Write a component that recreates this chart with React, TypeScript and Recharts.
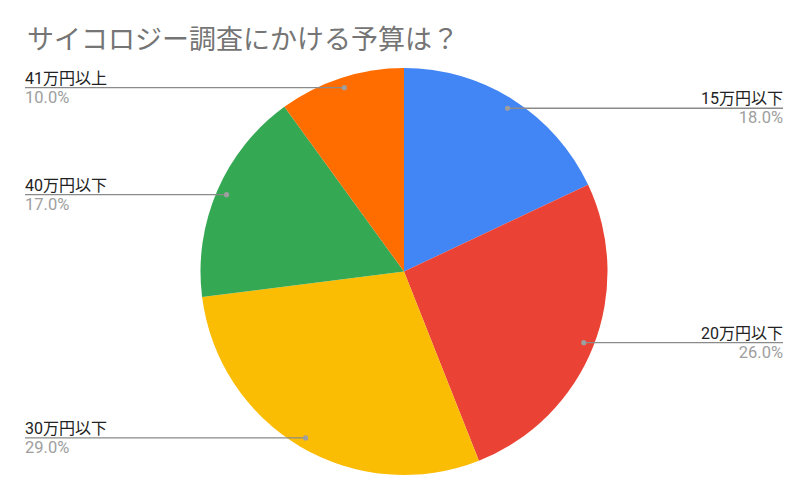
import React from 'react';
import { PieChart, Pie, Cell } from 'recharts';

const categories = ['15万円以下', '20万円以下', '30万円以下', '40万円以下', '41万円以上'];
const shares = [18, 26, 29, 17, 10];
const sliceColors = ['#4285f4', '#ea4335', '#fbbc04', '#34a853', '#ff6d01'];

const data = categories.map((name, i) => ({ name, value: shares[i] }));

const RAD = Math.PI / 180;
const FONT = 'Roboto, "Noto Sans CJK JP", sans-serif';

// Google-Sheets-style callout: dot inside slice, horizontal leader to the chart edge
const renderLabel = (props: any) => {
  const { cx, cy, midAngle, outerRadius, name, value, index } = props;
  const r = outerRadius * 0.95;
  const x = cx + r * Math.cos(-midAngle * RAD);
  const y = cy + r * Math.sin(-midAngle * RAD);
  const right = x >= cx;
  const edge = right ? 783 : 25;
  const anchor = right ? 'end' : 'start';
  return (
    <g key={`lbl-${index}`}>
      <line x1={x} y1={y} x2={edge} y2={y} stroke="#8a8a8a" strokeWidth={1.3} />
      <circle cx={x} cy={y} r={2.6} fill="#9e9e9e" />
      <text x={edge} y={y - 4} textAnchor={anchor} fontSize={16} fill="#222222" fontFamily={FONT}>
        {name}
      </text>
      <text x={edge} y={y + 15} textAnchor={anchor} fontSize={16.5} fill="#9e9e9e" fontFamily={FONT}>
        {value.toFixed(1)}%
      </text>
    </g>
  );
};

export default function App() {
  return (
    <div style={{ position: 'absolute', left: 0, top: 0, width: 809, height: 500, background: '#fff' }}>
      <div
        style={{
          position: 'absolute',
          left: 27,
          top: 20,
          fontSize: 27,
          color: '#757575',
          fontFamily: '"Noto Sans CJK JP", sans-serif',
          lineHeight: '36px',
          whiteSpace: 'nowrap',
        }}
      >
        サイコロジー調査にかける予算は？
      </div>
      <PieChart width={809} height={500} margin={{ top: 0, right: 0, bottom: 0, left: 0 }}>
        <Pie
          data={data}
          dataKey="value"
          nameKey="name"
          cx={404}
          cy={271.5}
          outerRadius={203.5}
          startAngle={90}
          endAngle={-270}
          stroke="none"
          label={renderLabel}
          labelLine={false}
          isAnimationActive={false}
        >
          {data.map((entry, i) => (
            <Cell key={`cell-${i}`} fill={sliceColors[i]} />
          ))}
        </Pie>
      </PieChart>
    </div>
  );
}
